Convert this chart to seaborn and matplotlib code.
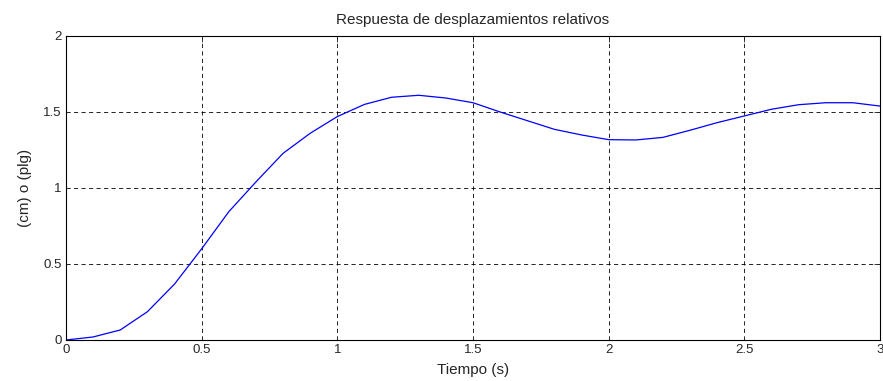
import numpy as np
import pandas as pd
import matplotlib
matplotlib.use("Agg")
import matplotlib.pyplot as plt
import seaborn as sns

# datos (paso de 0.1 s)
tiempo = [0.0, 0.1, 0.2, 0.3, 0.4, 0.5, 0.6, 0.7, 0.8, 0.9, 1.0,
          1.1, 1.2, 1.3, 1.4, 1.5, 1.6, 1.7, 1.8, 1.9, 2.0,
          2.1, 2.2, 2.3, 2.4, 2.5, 2.6, 2.7, 2.8, 2.9, 3.0]
desplazamiento = [0.0, 0.02, 0.066, 0.186, 0.368, 0.60, 0.844, 1.04, 1.228, 1.36, 1.47,
                  1.55, 1.597, 1.61, 1.592, 1.561, 1.50, 1.443, 1.386, 1.349, 1.318,
                  1.316, 1.333, 1.38, 1.43, 1.474, 1.518, 1.548, 1.561, 1.561, 1.539]
xticks = [0, 0.5, 1, 1.5, 2, 2.5, 3]
yticks = [0, 0.5, 1, 1.5, 2]

df = pd.DataFrame({"t": tiempo, "d": desplazamiento})

sns.set_style("white")
plt.rcParams['font.family'] = ['Liberation Sans', 'DejaVu Sans']
plt.rcParams['font.size'] = 9.5

fig = plt.figure(figsize=(8.83, 3.81), dpi=100)
ax = fig.add_axes([66 / 883, 1 - 340 / 381, (880 - 66) / 883, (340 - 36) / 381])

sns.lineplot(data=df, x="t", y="d", color="#0000ff", linewidth=0.9, ax=ax)

ax.set_xlim(0, 3)
ax.set_ylim(0, 2)
ax.set_xticks(xticks)
ax.set_xticklabels(["0", "0.5", "1", "1.5", "2", "2.5", "3"])
ax.set_yticks(yticks)
ax.set_yticklabels(["0", "0.5", "1", "1.5", "2"])
ax.grid(True, color="black", linestyle=(0, (5, 4)), linewidth=0.6)
ax.tick_params(direction="in", top=True, right=True, length=4, width=0.6,
               pad=3, labelsize=9.5)
for s in ax.spines.values():
    s.set_color("black")
    s.set_linewidth(0.8)

ax.set_title("Respuesta de desplazamientos relativos", fontsize=11, pad=8.5)
ax.set_xlabel("Tiempo (s)", fontsize=11, labelpad=5)
ax.set_ylabel("(cm) o (plg)", fontsize=11)
ax.yaxis.set_label_coords(-0.042, 0.5)

fig.savefig("out.png", dpi=100)
